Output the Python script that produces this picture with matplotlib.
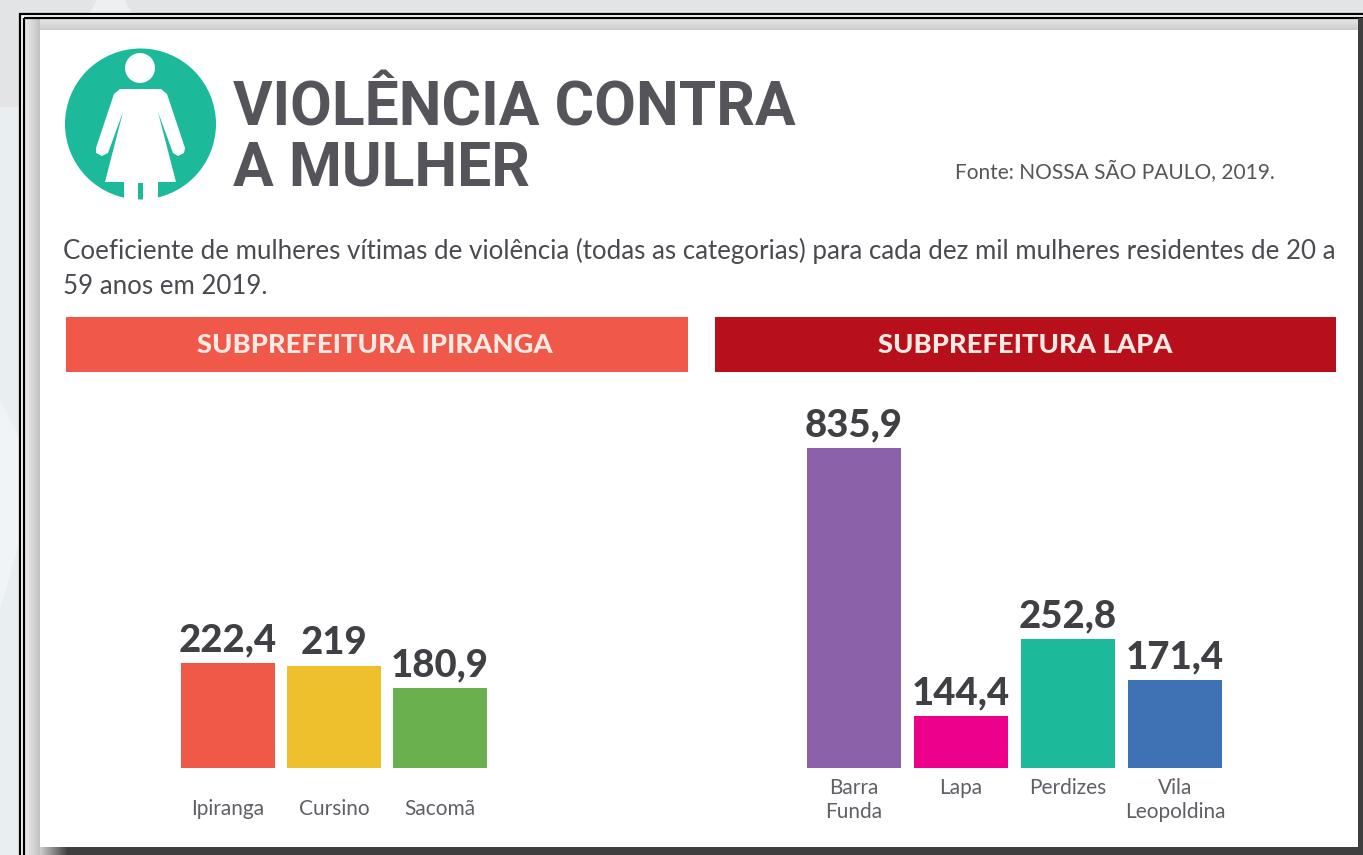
import matplotlib
matplotlib.use('Agg')
import matplotlib.pyplot as plt
from matplotlib.patches import Circle, Polygon, Rectangle
import numpy as np

W, H = 1363, 855
TITLE_FONT = ['Roboto', 'DejaVu Sans']
BODY_FONT = ['Lato', 'DejaVu Sans']

title_lines = ['VIOLÊNCIA CONTRA', 'A MULHER']
source = 'Fonte: NOSSA SÃO PAULO, 2019.'
subtitle_lines = ['Coeficiente de mulheres vítimas de violência (todas as categorias) para cada dez mil mulheres residentes de 20 a',
                  '59 anos em 2019.']

ipiranga_header = 'SUBPREFEITURA IPIRANGA'
ipiranga_names = ['Ipiranga', 'Cursino', 'Sacomã']
ipiranga_labels = ['222,4', '219', '180,9']
# the source graphic is not drawn to scale, so bar heights are read off the picture
ipiranga_heights = [105, 102, 80]
ipiranga_colors = ['#ef5a48', '#efc02e', '#6ab04f']

lapa_header = 'SUBPREFEITURA LAPA'
lapa_names = ['Barra\nFunda', 'Lapa', 'Perdizes', 'Vila\nLeopoldina']
lapa_labels = ['835,9', '144,4', '252,8', '171,4']
lapa_heights = [320, 52, 129, 88]
lapa_colors = ['#8b62a9', '#ec008c', '#1cb99b', '#3f71b5']

fig = plt.figure(figsize=(W / 100, H / 100), dpi=100)

# page in pixel coordinates: backdrop, frame, card, header
bg = fig.add_axes([0, 0, 1, 1])
bg.add_patch(Rectangle((0, 0), W, H, color='#e3e4e5', lw=0, zorder=0.1))
bg.add_patch(Rectangle((0, 107), 20, H, color='#e9eef1', lw=0, zorder=0.2))
bg.add_patch(Polygon([(80, 30), (97, 0), (125, 0), (140, 30)], color='#edf0f2', lw=0, zorder=0.2))
bg.add_patch(Polygon([(0, 400), (20, 440), (20, 540), (0, 610)], color='#f1f4f6', lw=0, zorder=0.3))

# double black rule of the frame, then the shaded band up to the card
bg.add_patch(Rectangle((20, 14), W, H, fc='white', ec='black', lw=1.6, zorder=0.5))
grad = np.linspace(0.92, 0.76, 32).reshape(1, -1)
bg.imshow(grad, extent=(25, 40, H, 19), cmap='gray', vmin=0, vmax=1, aspect='auto', zorder=0.7)
grad_top = np.linspace(0.9, 0.8, 16).reshape(-1, 1)
bg.imshow(grad_top, extent=(40, W, 30, 19), cmap='gray', vmin=0, vmax=1, aspect='auto', zorder=0.7)
grad_low = np.linspace(0.8, 0.25, 32).reshape(1, -1)
bg.imshow(grad_low, extent=(40, 68, H, 847), cmap='gray', vmin=0, vmax=1, aspect='auto', zorder=3)
bg.set_xlim(0, W)
bg.set_ylim(H, 0)
bg.axis('off')

bg.add_patch(Rectangle((24, 18), W, H, fc='none', ec='black', lw=1.6, zorder=2))
bg.add_patch(Rectangle((68, 847), W, 8, color='#3f3f3f', lw=0, zorder=3))
bg.add_patch(Rectangle((1358, 18), 5, H, color='#3f3f3f', lw=0, zorder=3))
bg.add_patch(Rectangle((40, 30), 1318, 817, color='white', lw=0, zorder=3))

# woman icon
teal = '#1cb99b'
bg.add_patch(Circle((140.5, 124), 75.5, color=teal, lw=0, zorder=4))
bg.add_patch(Circle((140, 68), 15, color='white', lw=0, zorder=5))
body = [(120, 89), (161, 89), (167, 94), (185, 148), (184, 153), (178, 156), (173, 153),
        (158, 112), (176, 182), (158, 182), (158, 201), (143, 201), (143, 183), (138, 183),
        (138, 201), (124, 201), (124, 182), (105, 182), (123, 112), (108, 153), (102, 156),
        (96, 153), (96, 148), (114, 94)]
bg.add_patch(Polygon(body, color='white', lw=0, zorder=5))

title_color = '#54545a'
for line, y in zip(title_lines, [125, 185]):
    bg.text(233, y, line, family=TITLE_FONT, fontsize=43.6, fontweight='bold', color=title_color,
            va='baseline', zorder=6)
bg.text(955, 179, source, family=BODY_FONT, fontsize=15, color='#55555a', va='baseline', zorder=6)
for line, y in zip(subtitle_lines, [259, 294]):
    bg.text(63, y, line, family=BODY_FONT, fontsize=18.65, color='#4a4a50', va='baseline', zorder=6)

bg.add_patch(Rectangle((66, 317), 622, 55, color='#f0594a', lw=0, zorder=4))
bg.add_patch(Rectangle((715, 317), 621, 55, color='#b8101a', lw=0, zorder=4))
bg.text(375, 345, ipiranga_header, family=BODY_FONT, fontsize=19.7, fontweight='black', color='#fbe9e4',
        ha='center', va='center', zorder=6)
bg.text(1025, 345, lapa_header, family=BODY_FONT, fontsize=19.7, fontweight='black', color='#fbe9e4',
        ha='center', va='center', zorder=6)


def draw_group(rect, names, labels, heights, colors, pad):
    # rect is left, right in page pixels; baseline and top are shared by both groups
    left, right = rect
    base, top = 768, 400
    ax = fig.add_axes([left / W, 1 - base / H, (right - left) / W, (base - top) / H])
    ax.patch.set_alpha(0)
    ax.set_xlim(-0.5, len(names) - 0.5)
    ax.set_ylim(0, base - top)
    x = np.arange(len(names))
    ax.bar(x, heights, width=0.885, color=colors)
    for i, label in enumerate(labels):
        ax.annotate(label, (x[i], heights[i]), xytext=(0, 4), textcoords='offset points',
                    ha='center', va='bottom', family=BODY_FONT, fontsize=27.5, fontweight='black',
                    color='#3f4044')
    ax.set_xticks(x, names)
    ax.tick_params(axis='x', length=0, pad=pad, labelsize=15, labelcolor='#5f6066')
    for tick in ax.get_xticklabels():
        tick.set_family(BODY_FONT)
        tick.set_linespacing(1.25)
    ax.set_yticks([])
    for spine in ax.spines.values():
        spine.set_visible(False)
    return ax


draw_group((175, 493), ipiranga_names, ipiranga_labels, ipiranga_heights, ipiranga_colors, 22)
draw_group((800.5, 1228.5), lapa_names, lapa_labels, lapa_heights, lapa_colors, 7)

fig.savefig('out.png', dpi=100)
